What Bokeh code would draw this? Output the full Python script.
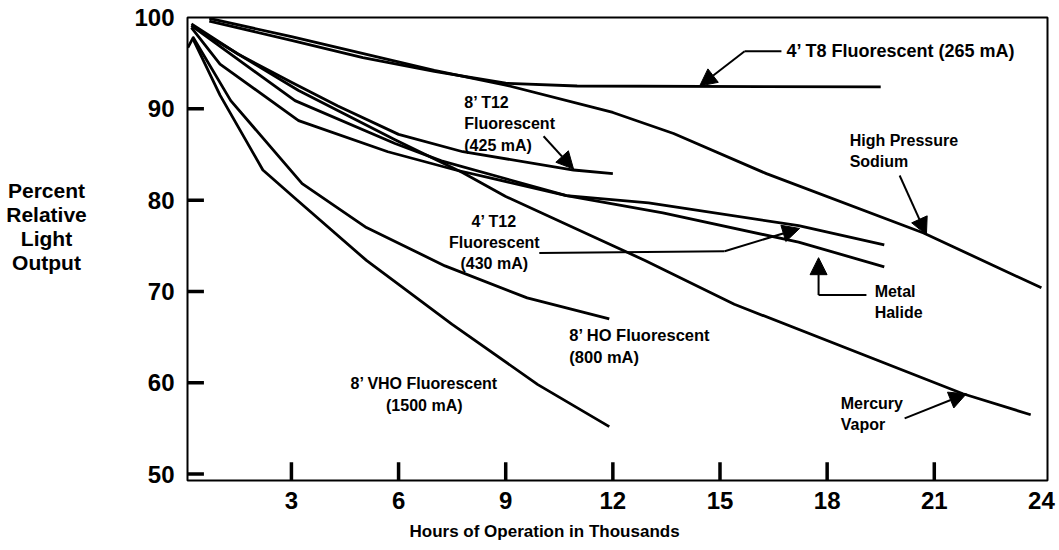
from bokeh.plotting import figure
from bokeh.models import Range1d, FixedTicker, Label, Arrow, NormalHead, Title
from bokeh.layouts import row
from bokeh.core.properties import value
from bokeh.embed import file_html
from bokeh.resources import INLINE

# ---- data (hours in thousands, percent relative light output) ----
t8_hours = [0.7, 3.0, 5.0, 7.0, 9.0, 11.0, 19.5]
t8_output = [99.6, 97.5, 95.6, 94.1, 92.8, 92.5, 92.4]

hps_hours = [0.7, 3.0, 7.0, 9.0, 12.0, 13.7, 16.3, 20.7, 24.0]
hps_output = [99.9, 97.9, 94.2, 92.6, 89.6, 87.3, 82.9, 76.4, 70.4]

t12_8_hours = [0.2, 1.5, 3.0, 4.3, 6.0, 7.8, 10.9, 12.0]
t12_8_output = [99.3, 96.0, 92.9, 90.3, 87.2, 85.3, 83.3, 82.9]

t12_4_hours = [0.2, 3.1, 5.9, 7.2, 10.7, 13.0, 17.2, 19.6]
t12_4_output = [99.1, 90.9, 86.2, 84.3, 80.5, 79.7, 77.2, 75.1]

mh_hours = [0.2, 1.0, 3.2, 5.7, 7.6, 10.7, 13.4, 17.2, 19.6]
mh_output = [98.9, 94.9, 88.7, 85.3, 83.3, 80.5, 78.6, 75.4, 72.7]

mv_hours = [0.2, 3.2, 5.9, 7.8, 9.0, 11.5, 12.9, 15.4, 21.8, 23.7]
mv_output = [99.1, 92.0, 86.6, 83.0, 80.4, 75.9, 73.4, 68.6, 58.8, 56.5]

ho_hours = [0.1, 0.25, 1.3, 3.3, 5.1, 7.3, 9.6, 11.9]
ho_output = [96.7, 97.8, 90.9, 81.8, 77.0, 72.8, 69.3, 67.0]

vho_hours = [0.25, 1.0, 2.2, 3.1, 5.1, 7.5, 9.9, 11.9]
vho_output = [97.6, 91.5, 83.3, 80.2, 73.4, 66.4, 59.8, 55.2]

x_ticks = [3, 6, 9, 12, 15, 18, 21, 24]
y_ticks = [50, 60, 70, 80, 90, 100]

x_title = "Hours of Operation in Thousands"
y_title = "Percent\nRelative\nLight\nOutput"

series = [
    (t8_hours, t8_output), (hps_hours, hps_output), (t12_8_hours, t12_8_output),
    (t12_4_hours, t12_4_output), (mh_hours, mh_output), (mv_hours, mv_output),
    (ho_hours, ho_output), (vho_hours, vho_output),
]

FONT = "Liberation Sans"
X0, X1, Y0, Y1 = 0.09, 24.17, 49.3, 100.0
H = 548
TW = 110  # width of the side panel holding the y title

p = figure(width=948, height=H, output_backend="svg", toolbar_location=None,
           x_range=Range1d(X0, X1), y_range=Range1d(Y0, Y1),
           min_border_left=77, min_border_right=11, min_border_top=17,
           min_border_bottom=64)
p.grid.visible = False
p.outline_line_color = "black"
p.outline_line_width = 2
p.background_fill_color = "white"
p.border_fill_color = "white"

for ax, ticks in ((p.xaxis[0], x_ticks), (p.yaxis[0], y_ticks)):
    ax.ticker = FixedTicker(ticks=ticks)
    ax.axis_line_color = None
    ax.major_tick_line_color = None
    ax.minor_tick_line_color = None
    ax.major_label_text_font = FONT
    ax.major_label_text_font_style = "bold"
    ax.major_label_text_font_size = "24px"
    ax.major_label_text_color = "black"
p.xaxis.major_label_standoff = 5
p.yaxis.major_label_standoff = 7

# x-axis title, placed below the tick labels
xt_title = Title(text=x_title, align="left", offset=222, text_font=FONT,
                 text_font_style="bold", text_font_size="17px", text_color="black")
if "standoff" in xt_title.properties():
    xt_title.standoff = 16
p.add_layout(xt_title, "below")

# inward tick marks (skip those lying on the frame)
xt = [t for t in x_ticks if X0 < t < X1 - 0.5]
yt = [t for t in y_ticks if Y0 + 0.5 < t < Y1 - 0.5]
p.segment(x0=xt, y0=[Y0] * len(xt), x1=xt, y1=[Y0 + 2.0] * len(xt),
          line_color="black", line_width=3.5)
p.segment(x0=[X0] * len(yt), y0=yt, x1=[X0 + 0.46] * len(yt), y1=yt,
          line_color="black", line_width=3.5)

for hx, vy in series:
    p.line(hx, vy, line_color="black", line_width=2.8, line_join="round")

def txt(x, y, s, align="left", size="16px", baseline="top"):
    p.add_layout(Label(x=x, y=y, text=s, text_font=FONT, text_font_style="bold",
                       text_font_size=size, text_align=align,
                       text_baseline=baseline, text_color="black",
                       text_line_height=1.25))

def arrow(x0, y0, x1, y1):
    p.add_layout(Arrow(end=NormalHead(size=17, fill_color="black", line_color="black"),
                       x_start=x0, y_start=y0, x_end=x1, y_end=y1,
                       line_color="black", line_width=2))

# annotations
txt(16.86, 96.3, "4\u2019 T8 Fluorescent (265 mA)", baseline="middle", size="18px")
p.line([16.72, 15.69], [96.3, 96.3], line_color="black", line_width=2)
arrow(15.69, 96.3, 14.43, 92.5)

txt(7.84, 91.6, "8\u2019 T12\nFluorescent\n(425 mA)")
arrow(10.06, 87.0, 10.9, 83.4)

txt(8.68, 78.6, "4\u2019 T12\nFluorescent\n(430 mA)", align="center")
p.line([9.94, 15.13], [74.2, 74.4], line_color="black", line_width=2)
arrow(15.13, 74.4, 17.23, 76.9)

txt(18.63, 87.5, "High Pressure\nSodium")
arrow(20.03, 82.7, 20.78, 76.2)

txt(19.33, 70.9, "Metal\nHalide")
p.line([19.1, 17.76], [69.6, 69.6], line_color="black", line_width=2)
arrow(17.76, 69.6, 17.76, 73.7)

txt(18.38, 58.7, "Mercury\nVapor")
arrow(20.17, 56.1, 21.9, 58.8)

txt(10.78, 66.25, "8\u2019 HO Fluorescent\n(800 mA)", size="16.5px")
txt(6.72, 60.8, "8\u2019 VHO Fluorescent\n(1500 mA)", align="center")

# side panel with the horizontal y-axis title
side = figure(width=TW, height=H, output_backend="svg", toolbar_location=None,
              x_range=Range1d(0, TW), y_range=Range1d(H, 0),
              x_axis_type=None, y_axis_type=None,
              min_border=0, outline_line_color=None)
side.grid.visible = False
side.text(x=[46], y=[191], text=[y_title], text_font=value(FONT),
          text_font_style="bold", text_font_size="21px", text_align="center",
          text_baseline="top", text_color="black", text_line_height=1.05)

layout = row(side, p)
open("out.html", "w").write(file_html(layout, INLINE))
